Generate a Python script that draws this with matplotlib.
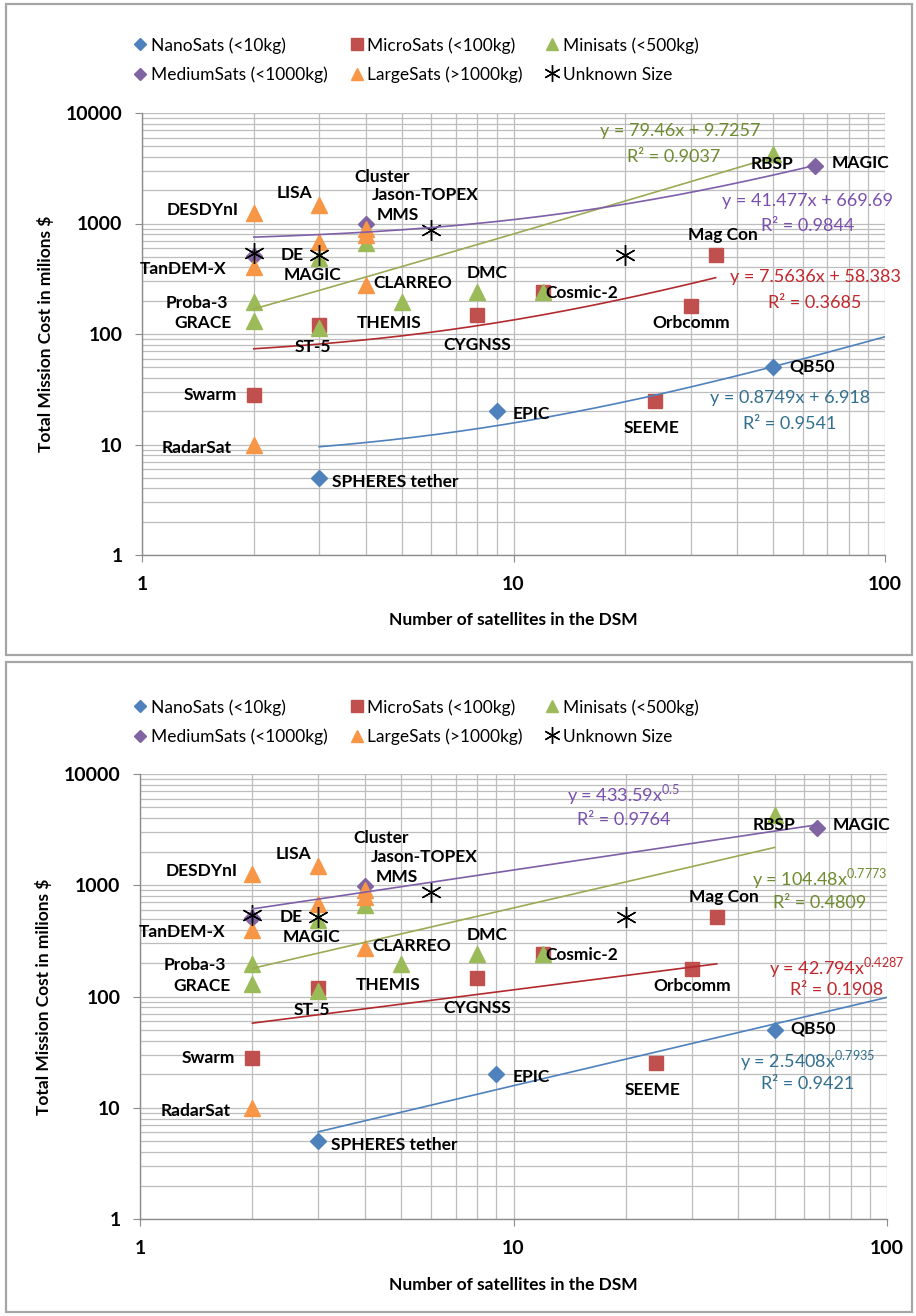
import numpy as np
import matplotlib
matplotlib.use("Agg")
import matplotlib.pyplot as plt
from matplotlib.lines import Line2D
from matplotlib.patches import Rectangle

plt.rcParams['font.family'] = ['Lato', 'DejaVu Sans']
plt.rcParams['mathtext.fontset'] = 'custom'
plt.rcParams['mathtext.rm'] = 'Lato'

# ---------------- data ----------------
nano_n = [3, 9, 50]
nano_cost = [5, 20, 50]

micro_n = [2, 3, 8, 12, 24, 30, 35]
micro_cost = [28, 120, 148, 240, 25, 178, 520]

mini_n = [2, 2, 3, 3, 4, 5, 8, 12, 50]
mini_cost = [130, 195, 113, 485, 670, 195, 240, 240, 4300]

medium_n = [2, 4, 65]
medium_cost = [510, 980, 3300]

large_n = [2, 2, 2, 3, 3, 4, 4, 4]
large_cost = [1250, 400, 10, 1480, 680, 900, 790, 275]

unknown_n = [2, 3, 6, 20]
unknown_cost = [540, 520, 870, 520]

series_names = ["NanoSats (<10kg)", "MicroSats (<100kg)", "Minisats (<500kg)",
                "MediumSats (<1000kg)", "LargeSats (>1000kg)", "Unknown Size"]

# point labels: text, anchor (n, cost)
label_text = ["DESDYnI", "LISA", "Cluster", "Jason-TOPEX", "MMS", "DE", "MAGIC",
              "TanDEM-X", "CLARREO", "Proba-3", "GRACE", "THEMIS", "ST-5", "CYGNSS",
              "Swarm", "RadarSat", "SPHERES tether", "DMC", "Cosmic-2", "Mag Con",
              "Orbcomm", "RBSP", "MAGIC", "QB50", "EPIC", "SEEME"]
label_n = [2, 3, 4, 6, 4, 3, 3, 2, 4, 2, 2, 5, 3, 8, 2, 2, 3, 8, 12, 35, 30, 50, 65, 50, 9, 24]
label_cost = [1250, 1480, 900, 870, 980, 520, 485, 400, 275, 195, 130, 195, 120, 148,
              28, 10, 5, 240, 240, 520, 178, 4300, 3300, 50, 20, 25]

# trend line coefficients (linear: a*x + b ; power: a*x^b), plus R^2
lin_nano = (0.8749, 6.918, 0.9541)
lin_micro = (7.5636, 58.383, 0.3685)
lin_mini = (79.46, 9.7257, 0.9037)
lin_medium = (41.477, 669.69, 0.9844)
pow_nano = (2.5408, 0.7935, 0.9421)
pow_micro = (42.794, 0.4287, 0.1908)
pow_mini = (104.48, 0.7773, 0.4809)
pow_medium = (433.59, 0.5, 0.9764)

x_ticks = [1, 10, 100]
y_ticks = [1, 10, 100, 1000, 10000]

# ---------------- style ----------------
C_NANO = "#4F81BD"
C_MICRO = "#C0504D"
C_MINI = "#9BBB59"
C_MED = "#8064A2"
C_LARGE = "#F79646"
EQ_COL = {"nano": "#31708F", "micro": "#C0282D", "mini": "#6E8B2F", "medium": "#7A4FAE"}
LINE_COL = {"nano": "#4F81BD", "micro": "#B22A2E", "mini": "#9BAA55", "medium": "#7F5FA8"}

# label offsets in pixels (dx, dy, ha)
label_off = [(-15, 3, 'right'), (-7, 12, 'right'), (16, 52, 'center'), (-6, 35, 'center'),
             (11, 9, 'left'), (-39, 0, 'left'), (-36, -17, 'left'), (-27, -2, 'right'),
             (8, 2, 'left'), (-26, -1, 'right'), (-22, -2, 'right'), (-45, -21, 'left'),
             (-6, -22, 'center'), (0, -30, 'center'), (-17, 0, 'right'), (-22, -3, 'right'),
             (13, -4, 'left'), (10, 19, 'center'), (2, -1, 'left'), (7, 20, 'center'),
             (0, -17, 'center'), (-1, -10, 'center'), (16, 3, 'left'), (16, 1, 'left'),
             (16, -3, 'left'), (-3, -27, 'center')]

W, H = 916, 1316
fig = plt.figure(figsize=(W / 100, H / 100), dpi=100)


def fx(px):
    return px / W


def fy(py):
    return 1 - py / H


def draw_panel(top_px, bot_px, left_px, right_px, kind, eq_pos, box, legend_y):
    ax = fig.add_axes([fx(left_px), fy(bot_px), fx(right_px) - fx(left_px), fy(top_px) - fy(bot_px)])
    ax.set_xscale('log')
    ax.set_yscale('log')
    ax.set_xlim(1, 100)
    ax.set_ylim(1, 10000)
    ax.grid(True, which='both', color='#BDBDBD', lw=0.9)
    ax.set_axisbelow(True)
    for s in ['top', 'right']:
        ax.spines[s].set_visible(False)
    for s in ['left', 'bottom']:
        ax.spines[s].set_color('#8C8C8C')
        ax.spines[s].set_linewidth(1.0)
    ax.set_xticks(x_ticks)
    ax.set_xticklabels([str(v) for v in x_ticks])
    ax.set_yticks(y_ticks)
    ax.set_yticklabels([str(v) for v in y_ticks])
    ax.tick_params(which='major', length=5, color='#8C8C8C', labelsize=14)
    ax.tick_params(axis='x', pad=10)
    ax.tick_params(axis='y', pad=9)
    ax.tick_params(which='minor', length=0)
    ax.xaxis.set_minor_formatter(matplotlib.ticker.NullFormatter())
    ax.yaxis.set_minor_formatter(matplotlib.ticker.NullFormatter())
    for t in ax.get_xticklabels() + ax.get_yticklabels():
        t.set_fontweight('bold')

    ax.set_xlabel("Number of satellites in the DSM", fontsize=12.5, fontweight='bold')
    ax.set_ylabel("Total Mission Cost in milions $", fontsize=12.5, fontweight='bold')
    ax.xaxis.set_label_coords(0.5, -0.13)
    ax.yaxis.set_label_coords(-0.118, 0.5)

    if kind == 'lin':
        fits = [("nano", lin_nano, min(nano_n), 100), ("micro", lin_micro, min(micro_n), max(micro_n)),
                ("mini", lin_mini, min(mini_n), max(mini_n)), ("medium", lin_medium, min(medium_n), max(medium_n))]
    else:
        fits = [("nano", pow_nano, min(nano_n), 100), ("micro", pow_micro, min(micro_n), max(micro_n)),
                ("mini", pow_mini, min(mini_n), max(mini_n)), ("medium", pow_medium, min(medium_n), max(medium_n))]

    h1, = ax.plot(nano_n, nano_cost, 'D', color=C_NANO, ms=8, ls='none', zorder=3)
    h2, = ax.plot(micro_n, micro_cost, 's', color=C_MICRO, ms=10, ls='none', zorder=3)
    h3, = ax.plot(mini_n, mini_cost, '^', color=C_MINI, ms=11, ls='none', zorder=3)
    h4, = ax.plot(medium_n, medium_cost, 'D', color=C_MED, ms=8, ls='none', zorder=3)
    h5, = ax.plot(large_n, large_cost, '^', color=C_LARGE, ms=11, ls='none', zorder=3)
    h6, = ax.plot(unknown_n, unknown_cost, ls='none', marker=(6, 2, 0), color='black',
                  ms=15, mew=1.0, zorder=4)

    for key, coef, x0, x1 in fits:
        xs = np.geomspace(x0, x1, 200)
        a, b, r2 = coef
        ys = a * xs + b if kind == 'lin' else a * xs ** b
        ax.plot(xs, ys, color=LINE_COL[key], lw=1.2, zorder=5)
        if kind == 'lin':
            eq = f"y = {a}x + {b}"
        else:
            eq = f"y = {a}x$^{{\\mathregular{{{b}}}}}$"
        (ex, ey), (rx, ry) = eq_pos[key]
        ax.text(ex, ey, eq, transform=ax.transAxes, ha='center', va='center',
                color=EQ_COL[key], fontsize=13, zorder=6)
        ax.text(rx, ry, f"R² = {r2:.4f}", transform=ax.transAxes, ha='center', va='center',
                color=EQ_COL[key], fontsize=13, zorder=6)

    for txt, n, c, (dx, dy, ha) in zip(label_text, label_n, label_cost, label_off):
        ax.annotate(txt, (n, c), xytext=(dx, dy), textcoords='offset pixels',
                    ha=ha, va='center', fontsize=12.5, fontweight='bold', zorder=7)

    handles = [h1, h4, h2, h5, h3, h6]
    names = [series_names[i] for i in (0, 3, 1, 4, 2, 5)]
    lh = []
    for h in handles:
        lh.append(Line2D([], [], ls='none', marker=h.get_marker(), color=h.get_color(),
                         ms=h.get_markersize() * 0.8, mew=h.get_markeredgewidth()))
    fig.legend(lh, names, loc='upper left', bbox_to_anchor=(fx(128), fy(legend_y)),
               ncol=3, frameon=False, fontsize=12.5, handlelength=0.6, handletextpad=0.3,
               columnspacing=1.4, labelspacing=0.75, borderaxespad=0)

    fig.add_artist(Rectangle((fx(box[0]), fy(box[3])), fx(box[2]) - fx(box[0]), fy(box[1]) - fy(box[3]),
                             transform=fig.transFigure, fill=False, ec='#A6A6A6', lw=1.6))
    return ax


eq_top = {"mini": ((0.724, 0.959), (0.716, 0.900)),
          "medium": ((0.896, 0.801), (0.896, 0.744)),
          "micro": ((0.906, 0.629), (0.906, 0.570)),
          "nano": ((0.872, 0.355), (0.872, 0.296))}
eq_bot = {"medium": ((0.647, 0.953), (0.647, 0.897)),
          "mini": ((0.910, 0.766), (0.910, 0.710)),
          "micro": ((0.933, 0.566), (0.933, 0.515)),
          "nano": ((0.894, 0.357), (0.894, 0.303))}

draw_panel(113, 555, 142, 885, 'lin', eq_top, (6, 4, 912, 655), 30)
draw_panel(774, 1219, 140, 887, 'pow', eq_bot, (6, 662, 912, 1312), 692)

fig.savefig("out.png", dpi=100)
